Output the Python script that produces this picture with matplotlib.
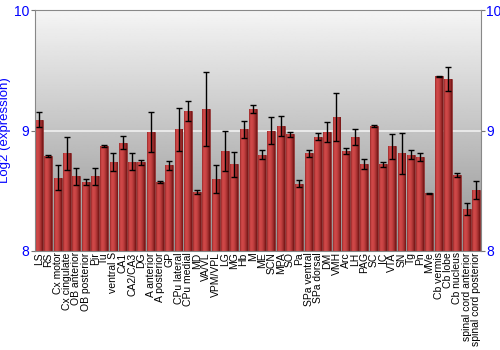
import numpy as np
import matplotlib
matplotlib.use('Agg')
import matplotlib.pyplot as plt
from matplotlib.colors import LinearSegmentedColormap

plt.rcParams['font.family'] = ['Liberation Sans', 'DejaVu Sans']

regions = ['LS', 'RS', 'Cx motor', 'Cx cingulate', 'OB anterior', 'OB posterior', 'Pir', 'Tu',
           'ventral S', 'CA1', 'CA2/CA3', 'DG', 'A anterior', 'A posterior', 'GP', 'CPu lateral',
           'CPu medial', 'MD', 'VA/VL', 'VPM/VPL', 'LG', 'MG', 'Hb', 'M', 'ME', 'SCN', 'MPA', 'SO',
           'Pa', 'SPa ventral', 'SPa dorsal', 'DM', 'VMH', 'Arc', 'LH', 'PAG', 'SC', 'IC', 'VTA',
           'SN', 'Tg', 'Pn', 'MVe', 'Cb vermis', 'Cb lobe', 'Cb nucleus', 'spinal cord anterior',
           'spinal cord posterior']
expr = [9.09, 8.79, 8.61, 8.81, 8.62, 8.57, 8.62, 8.87,
        8.74, 8.90, 8.74, 8.735, 8.99, 8.575, 8.71, 9.01,
        9.16, 8.49, 9.18, 8.60, 8.83, 8.72, 9.01, 9.18, 8.80, 9.00, 9.04, 8.97,
        8.56, 8.81, 8.95, 8.99, 9.11, 8.83, 8.95, 8.72, 9.04, 8.72, 8.87,
        8.81, 8.80, 8.78, 8.48, 9.45, 9.43, 8.63, 8.35,
        8.51]
err = [0.06, 0.01, 0.105, 0.14, 0.07, 0.025, 0.07, 0.01,
       0.077, 0.055, 0.07, 0.018, 0.165, 0.01, 0.04, 0.18,
       0.083, 0.015, 0.31, 0.115, 0.17, 0.105, 0.07, 0.035, 0.04, 0.11, 0.085, 0.022,
       0.03, 0.03, 0.027, 0.085, 0.2, 0.025, 0.066, 0.043, 0.01, 0.02, 0.105,
       0.17, 0.036, 0.03, 0.003, 0.005, 0.1, 0.018, 0.05,
       0.075]

blue = '#0000ff'
fig = plt.figure(figsize=(5, 3.5), dpi=100)
ax = fig.add_axes([0.069, 0.283, 0.892, 0.688])

x = np.arange(len(regions))
ax.set_xlim(-0.5, len(regions) - 0.5)
ax.set_ylim(8, 10)

# grey gradient background
bg = np.linspace(0.57, 0.96, 256).reshape(-1, 1)
ax.imshow(bg, cmap='gray', vmin=0, vmax=1, aspect='auto', origin='lower',
          extent=(-0.5, len(regions) - 0.5, 8, 10), zorder=0)
ax.axhline(9, color='#f0f0f0', lw=1.2, zorder=1)

bars = ax.bar(x, np.array(expr) - 8, bottom=8, width=0.85, color='#b83232',
              edgecolor='#7a1a1a', linewidth=0.4, zorder=2)
# horizontal shading inside each bar
shade = np.array([0.8, 0.97, 1.0, 0.95, 0.85, 0.72, 0.58]).reshape(1, -1)
cmap = LinearSegmentedColormap.from_list('bar', ['#6e1212', '#d04848'])
for b in bars:
    im = ax.imshow(shade, cmap=cmap, vmin=0.5, vmax=1, aspect='auto',
                   extent=(b.get_x(), b.get_x() + b.get_width(), 8, b.get_height() + 8),
                   zorder=2.5)
    im.set_clip_path(b)
ax.errorbar(x, expr, yerr=err, fmt='none', ecolor='black', elinewidth=1,
            capsize=2, capthick=1, zorder=3)

ax.set_xticks(x)
ax.set_xticklabels(regions, rotation=90, fontsize=7.5)
ax.tick_params(axis='x', length=0, pad=1)
ax.set_yticks([8, 9, 10])
ax.tick_params(axis='y', colors='#777777', labelcolor=blue, labelsize=10, length=3,
               pad=1, right=True, labelright=True)
ax.set_ylabel('Log2 (expression)', color=blue, fontsize=9.5, labelpad=2)
for s in ax.spines.values():
    s.set_color('#888888')
    s.set_linewidth(0.8)

fig.savefig('out.png', dpi=100)
